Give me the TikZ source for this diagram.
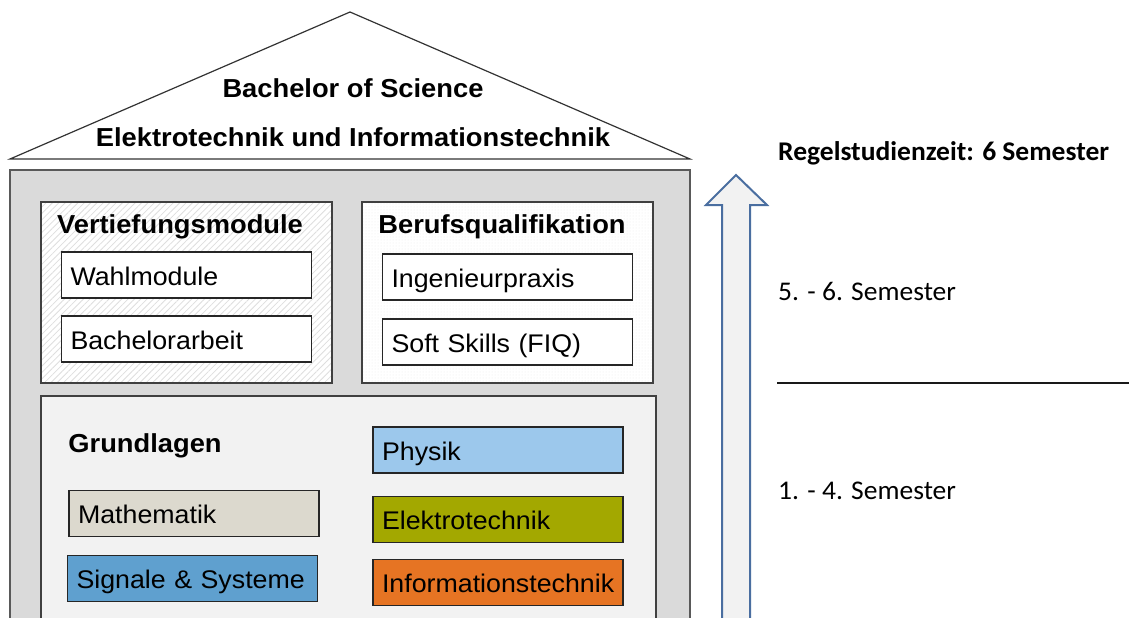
\documentclass[tikz,border=0pt]{standalone}
\usepackage{fontspec}
\setmainfont{Liberation Sans}[FakeStretch=1.05]
\newfontfamily\calibri{Carlito}[FakeStretch=1.02]
\usetikzlibrary{patterns.meta}

\definecolor{hausgrau}{HTML}{DADADA}
\definecolor{grundgrau}{HTML}{F2F2F2}
\definecolor{physikblau}{HTML}{9CC8EC}
\definecolor{mathegrau}{HTML}{DCD9CE}
\definecolor{signalblau}{HTML}{5FA0CF}
\definecolor{elektrogruen}{HTML}{A3A800}
\definecolor{infoorange}{HTML}{E67423}
\definecolor{pfeilblau}{HTML}{4A6EA0}

\tikzset{
	modul/.style={draw=black!85, line width=1.6pt, text width=232pt, inner xsep=9pt, minimum height=46pt, text height=20pt, text depth=0pt, align=left, font=\fontsize{25.5}{28}\selectfont},
	gruppe/.style={draw=black!75, line width=1.3pt},
	titel/.style={font=\bfseries\fontsize{26}{28}\selectfont},
	semester/.style={anchor=west, inner sep=0pt, font=\calibri\fontsize{27}{30}\selectfont},
}

\begin{document}
\begin{tikzpicture}[x=1pt, y=-1pt]
		\useasboundingbox (0,0) rectangle (1129,618);

		% Haus
		\draw[fill=hausgrau, draw=black!65, line width=1.5pt] (10,170) rectangle (690,630);
		\draw[fill=white, draw=black!80, line width=1.2pt] (10,159) -- (350,12) -- (690,159) -- cycle;
		\node (bsc)[titel] at (353,88)   {Bachelor of Science};
		\node (studiengang)[titel] at (353,137)   {Elektrotechnik und Informationstechnik};

		% Gruppen
		\fill[white] (41,202) rectangle (332,383);
		\fill[pattern={Lines[angle=45, distance=4.5pt, line width=0.8pt]}, pattern color=black!13] (41,202) rectangle (332,383);
		\draw[gruppe] (41,202) rectangle (332,383);
		\fill[white] (362,202) rectangle (653,383);
		\fill[pattern={Dots[distance=3pt, radius=0.5pt]}, pattern color=black!8] (362,202) rectangle (653,383);
		\draw[gruppe] (362,202) rectangle (653,383);
		\draw[gruppe, fill=grundgrau] (41,396) rectangle (656,630);

		\node (vertiefung)[titel] at (180,227)   {Vertiefungsmodule};
		\node (beruf)[titel] at (502,227)   {Berufsqualifikation};
		\node (grundlagen)[titel] at (145,446)   {Grundlagen};

		% Module
		\node (wahl)[modul, fill=white] at (186.5,275)   {Wahlmodule};
		\node (bachelorarbeit)[modul, fill=white] at (186.5,339)   {Bachelorarbeit};
		\node (praxis)[modul, fill=white] at (507.5,277)   {Ingenieurpraxis};
		\node (softskills)[modul, fill=white] at (507.5,342)   {Soft Skills (FIQ)};

		\node (physik)[modul, fill=physikblau] at (498,450)   {Physik};
		\node (mathe)[modul, fill=mathegrau] at (194,513.5)   {Mathematik};
		\node (signale)[modul, fill=signalblau] at (192.5,578.5)   {Signale \& Systeme};
		\node (elektro)[modul, fill=elektrogruen] at (498,519.5)   {Elektrotechnik};
		\node (info)[modul, fill=infoorange] at (498,582.5)   {Informationstechnik};

		% Zeitachse
		\draw[draw=pfeilblau, fill=grundgrau, line width=2pt, line join=miter]
			(722,630) -- (722,205) -- (706,205) -- (736,175) -- (767,205) -- (750,205) -- (750,630);

		\node (regel)[semester, font=\calibri\bfseries\fontsize{27}{30}\selectfont] at (778,153)   {Regelstudienzeit: 6 Semester};
		\node (oben)[semester] at (778,291)   {5. - 6. Semester};
		\node (unten)[semester] at (778,491)   {1. - 4. Semester};

		\coordinate (grenzeA) at (777,383);
		\coordinate (grenzeB) at (1129,383);
		\draw[line width=1.6pt, black!90] (grenzeA) -- (grenzeB);
	\end{tikzpicture}
\end{document}
